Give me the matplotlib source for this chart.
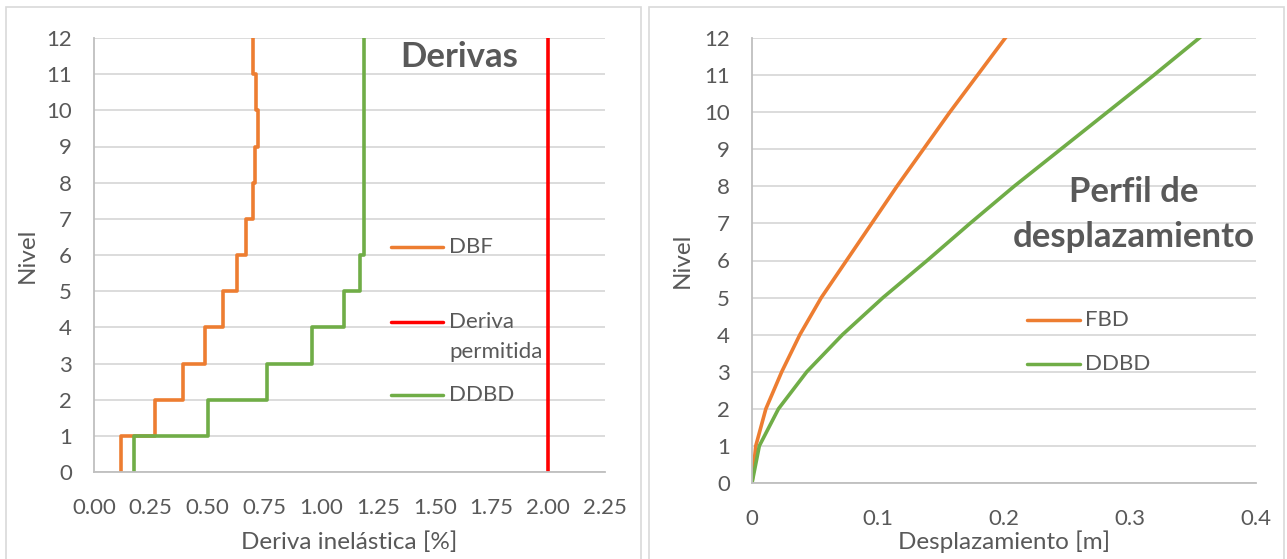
import numpy as np
import matplotlib
matplotlib.use("Agg")
import matplotlib.pyplot as plt
from matplotlib.patches import Rectangle
from matplotlib.lines import Line2D

plt.rcParams['font.family'] = ['Lato', 'DejaVu Sans']

# ---- data -------------------------------------------------------------
levels = np.arange(0, 13)                      # storey levels 0..12

# inelastic storey drift [%] for storeys 1..12
drift_dbf = [0.12, 0.27, 0.39, 0.49, 0.57, 0.63, 0.67, 0.70, 0.71, 0.72, 0.715, 0.70]
drift_ddbd = [0.175, 0.50, 0.76, 0.96, 1.10, 1.17, 1.19, 1.19, 1.19, 1.19, 1.19, 1.19]
drift_limit = 2.0

# displacement profile [m] at levels 0..12
disp_fbd = [0, 0.003, 0.011, 0.0236, 0.038, 0.055, 0.075, 0.095, 0.115,
            0.136, 0.157, 0.179, 0.201]
disp_ddbd = [0, 0.0058, 0.021, 0.0435, 0.0718, 0.104, 0.139, 0.173, 0.208,
             0.245, 0.282, 0.319, 0.355]

drift_ticks = [0.00, 0.25, 0.50, 0.75, 1.00, 1.25, 1.50, 1.75, 2.00, 2.25]
disp_ticks = [0, 0.1, 0.2, 0.3, 0.4]
disp_tick_labels = ['0', '0.1', '0.2', '0.3', '0.4']

ORANGE = '#ED7D31'
GREEN = '#70AD47'
RED = '#FF0000'
TXT = '#595959'
GRID = '#D9D9D9'
AXL = '#BFBFBF'

TICK_FS = 16
LABEL_FS = 17.5
LEG_FS = 16
TITLE_FS = 25

W, H = 1287, 559
fig = plt.figure(figsize=(W / 100, H / 100), dpi=100)


def fx(px):
    return px / W


def fy(py):
    return 1 - py / H


# panel frames
for x0, x1 in [(6, 641), (649, 1284)]:
    fig.add_artist(Rectangle((fx(x0), fy(560)), fx(x1) - fx(x0), fy(7) - fy(560),
                             transform=fig.transFigure, fill=False,
                             edgecolor=GRID, lw=1.2))


def style(ax):
    ax.set_ylim(0, 12)
    ax.set_yticks(levels)
    ax.grid(axis='y', color=GRID, lw=1.3)
    ax.set_axisbelow(True)
    for s in ['top', 'right']:
        ax.spines[s].set_visible(False)
    for s in ['left', 'bottom']:
        ax.spines[s].set_color(AXL)
        ax.spines[s].set_linewidth(1.3)
    ax.tick_params(length=0, labelsize=TICK_FS, labelcolor=TXT)
    ax.tick_params(axis='x', pad=19)
    ax.tick_params(axis='y', pad=16)


def legend_entry(xh0, xh1, xt, y, color, text):
    fig.add_artist(Line2D([fx(xh0), fx(xh1)], [fy(y), fy(y)], transform=fig.transFigure,
                          color=color, lw=2.5, solid_capstyle='round'))
    fig.text(fx(xt), fy(y), text, ha='left', va='center', fontsize=LEG_FS, color=TXT)


# ---- left: storey drifts ---------------------------------------------
ax1 = fig.add_axes([fx(94), fy(472), fx(605) - fx(94), fy(38) - fy(472)])
step_y = np.repeat(levels, 2)[1:-1]
ax1.plot(np.repeat(drift_dbf, 2), step_y, color=ORANGE, lw=2.6)
ax1.plot([drift_limit, drift_limit], [levels[0], levels[-1]], color=RED, lw=2.6)
ax1.plot(np.repeat(drift_ddbd, 2), step_y, color=GREEN, lw=2.6)
ax1.set_xlim(0, 2.25)
ax1.set_xticks(drift_ticks)
ax1.set_xticklabels([f'{t:.2f}' for t in drift_ticks])
style(ax1)
ax1.set_xlabel('Deriva inelástica [%]', fontsize=LABEL_FS, color=TXT, labelpad=9)
ax1.set_ylabel('Nivel', fontsize=LABEL_FS, color=TXT, labelpad=6)
fig.text(fx(459), fy(57), 'Derivas', ha='center', va='center', fontsize=TITLE_FS,
         fontweight='bold', color=TXT)

legend_entry(391, 443, 449, 247, ORANGE, 'DBF')
legend_entry(391, 443, 449, 322, RED, 'Deriva')
fig.text(fx(449), fy(352), 'permitida', ha='left', va='center', fontsize=LEG_FS, color=TXT)
legend_entry(391, 443, 449, 395, GREEN, 'DDBD')

# ---- right: displacement profile -------------------------------------
ax2 = fig.add_axes([fx(752), fy(483), fx(1256) - fx(752), fy(38) - fy(483)])
ax2.plot(disp_fbd, levels, color=ORANGE, lw=2.6)
ax2.plot(disp_ddbd, levels, color=GREEN, lw=2.6)
ax2.set_xlim(0, 0.4)
ax2.set_xticks(disp_ticks)
ax2.set_xticklabels(disp_tick_labels)
style(ax2)
ax2.set_xlabel('Desplazamiento [m]', fontsize=LABEL_FS, color=TXT, labelpad=1)
ax2.set_ylabel('Nivel', fontsize=LABEL_FS, color=TXT, labelpad=8)
fig.text(fx(1134), fy(192), 'Perfil de', ha='center', va='center', fontsize=TITLE_FS,
         fontweight='bold', color=TXT)
fig.text(fx(1134), fy(237), 'desplazamiento', ha='center', va='center', fontsize=TITLE_FS,
         fontweight='bold', color=TXT)

legend_entry(1027, 1080, 1085, 320, ORANGE, 'FBD')
legend_entry(1027, 1080, 1085, 364, GREEN, 'DDBD')

fig.savefig('out.png', dpi=100)
